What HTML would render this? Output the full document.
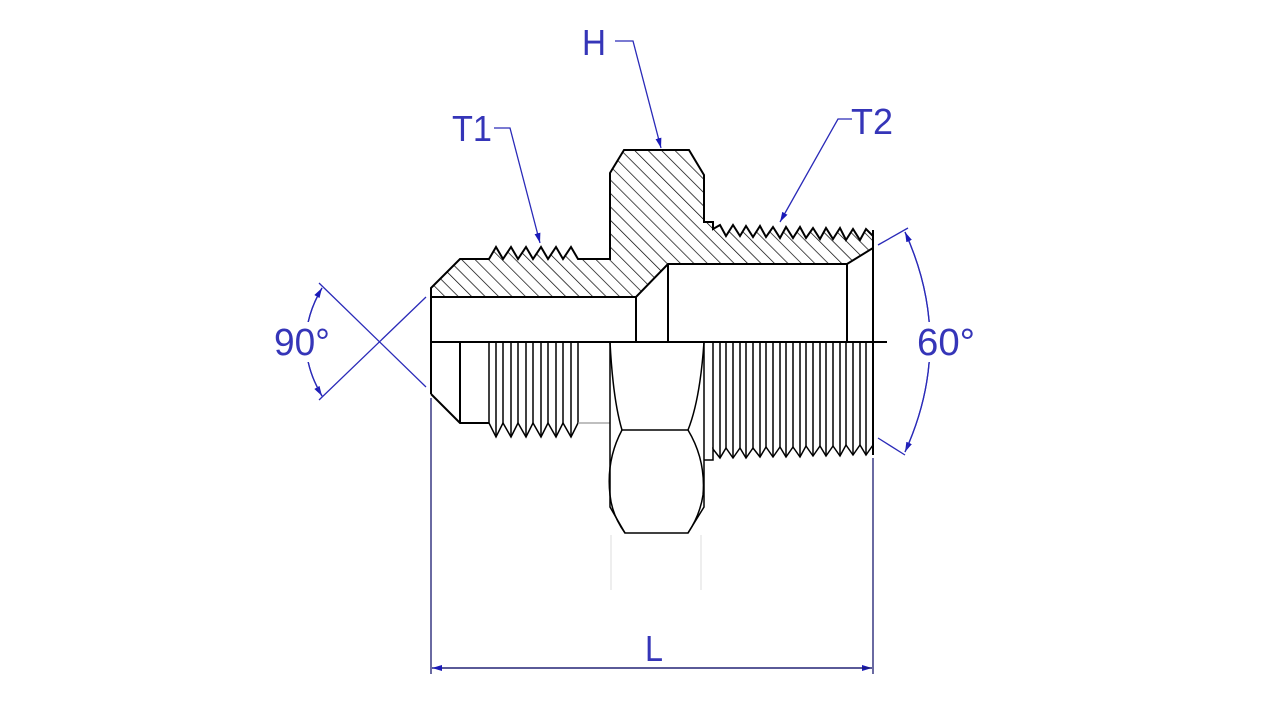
<!DOCTYPE html>
<html><head><meta charset="utf-8"><style>
html,body{margin:0;padding:0;background:#fff;}
svg{display:block;}
text{font-family:"Liberation Sans",sans-serif;fill:#3535b8;}
</style></head><body>
<svg width="1280" height="720" viewBox="0 0 1280 720" xmlns="http://www.w3.org/2000/svg">
<defs>
<pattern id="h" width="9.5" height="9.5" patternUnits="userSpaceOnUse" patternTransform="rotate(-45)">
<line x1="0" y1="0" x2="0" y2="9.5" stroke="#000" stroke-width="1.4"/>
</pattern>
<marker id="a" viewBox="0 0 10 6" refX="10" refY="3" markerWidth="10" markerHeight="6" orient="auto" markerUnits="userSpaceOnUse">
<path d="M0,0 L10,3 L0,6 Z" fill="#1a1ab8"/>
</marker>
</defs>

<polygon fill="url(#h)" stroke="#000" stroke-width="2" stroke-linejoin="miter" points="431,288 460,259 489,259 496,247 503,259 511,247 518,259 526,247 533,259 541,247 548,259 556,247 563,259 571,247 578,259 610,259 610,173 624,150 689,150 704,175 704,222 713,222 713,229 720,225 726,236 733,225 740,236 746,226 753,237 760,226 766,237 773,227 780,238 786,227 793,238 800,227 806,238 813,228 820,239 826,228 833,239 840,228 846,240 853,229 860,240 866,229 873,236 873,248 847,264 668,264 636,297 431,297"/>

<g stroke="#000" stroke-width="2" fill="none">
<line x1="636" y1="297" x2="636" y2="342"/>
<line x1="668" y1="264" x2="668" y2="342"/>
<line x1="847" y1="264" x2="847" y2="342"/>
<line x1="873" y1="230" x2="873" y2="455"/>
<line x1="431" y1="288" x2="431" y2="394"/>
<line x1="430" y1="342" x2="887" y2="342"/>
<polyline points="431,394 460,423 489,423"/>
<line x1="460" y1="342" x2="460" y2="423"/>
</g>
<g stroke="#000" stroke-width="1.5" fill="none">
<polyline points="489,423 496,437 503,423 511,437 518,423 526,437 533,423 541,437 548,423 556,437 563,423 571,437 578,423"/>
<path d="M489 342V423M496 342V437M503 342V423M511 342V437M518 342V423M526 342V437M533 342V423M541 342V437M548 342V423M556 342V437M563 342V423M571 342V437M578 342V423"/>
<line x1="578" y1="423" x2="610" y2="423" stroke="#999" stroke-width="1.2"/>
<polyline points="610,342 610,507 625,533 688,533 704,507 704,342"/>
<path d="M610 342 Q613 400 622 430 L688 430 Q700 400 704 342"/>
<path d="M622 430 Q606 460 610 495 Q612 515 625 533"/>
<path d="M688 430 Q706 460 703 495 Q700 515 688 533"/>
<polyline points="704,460 713,460 713,449 720,458 726,448 733,458 740,448 746,458 753,448 760,457 766,447 773,457 780,447 786,457 793,447 800,457 806,446 813,456 820,446 826,456 833,446 840,456 846,445 853,455 860,445 866,455 873,445"/>
<path d="M713 342V449M720 342V458M726 342V448M733 342V458M740 342V448M746 342V458M753 342V448M760 342V457M766 342V447M773 342V457M780 342V447M786 342V457M793 342V447M800 342V457M806 342V446M813 342V456M820 342V446M826 342V456M833 342V446M840 342V456M846 342V445M853 342V455M860 342V445M866 342V455"/>
</g>
<g stroke="#ddd" stroke-width="1">
<line x1="611" y1="535" x2="611" y2="590"/>
<line x1="701" y1="535" x2="701" y2="590"/>
</g>

<g stroke="#1a1a70" stroke-width="1.3" fill="none">
<line x1="431" y1="398" x2="431" y2="674"/>
<line x1="873" y1="458" x2="873" y2="674"/>
<line x1="432" y1="668" x2="872" y2="668" marker-end="url(#a)"/>
<line x1="872" y1="668" x2="432" y2="668" marker-end="url(#a)"/>
</g>
<g stroke="#2a2ab8" stroke-width="1.3" fill="none">
<line x1="319" y1="283" x2="426" y2="387"/>
<line x1="319" y1="400" x2="426" y2="297"/>
<path d="M322 288 Q290 342 322 396" marker-end="url(#a)"/>
<path d="M322 396 Q290 342 322 288" marker-end="url(#a)"/>
<line x1="878" y1="245" x2="908" y2="228"/>
<line x1="878" y1="438" x2="905" y2="455"/>
<path d="M905 232 Q955 342 905 452" marker-end="url(#a)"/>
<path d="M905 452 Q955 342 905 232" marker-end="url(#a)"/>
<polyline points="615,41 633,41 661,148" marker-end="url(#a)"/>
<polyline points="494,128 510,128 540,243" marker-end="url(#a)"/>
<polyline points="852,119 838,119 780,222" marker-end="url(#a)"/>
</g>
<rect x="292" y="322" width="40" height="40" fill="#fff"/>
<rect x="915" y="322" width="40" height="40" fill="#fff"/>
<text x="274" y="355" font-size="38" textLength="56" lengthAdjust="spacingAndGlyphs">90°</text>
<text x="917" y="355" font-size="38" textLength="58" lengthAdjust="spacingAndGlyphs">60°</text>
<text x="582" y="55" font-size="36" textLength="24" lengthAdjust="spacingAndGlyphs">H</text>
<text x="452" y="141" font-size="36" textLength="40" lengthAdjust="spacingAndGlyphs">T1</text>
<text x="851" y="134" font-size="36" textLength="42" lengthAdjust="spacingAndGlyphs">T2</text>
<text x="645" y="661" font-size="36" textLength="18" lengthAdjust="spacingAndGlyphs">L</text>
</svg>
</body></html>
